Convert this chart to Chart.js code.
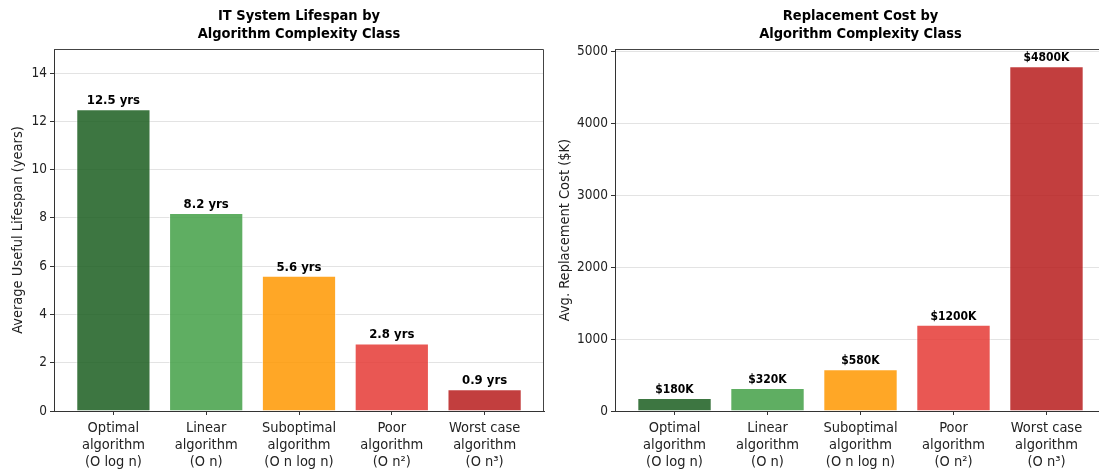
<!DOCTYPE html>
<html>
<head>
<meta charset="utf-8">
<title>Algorithm Complexity Class</title>
<script src="https://cdn.jsdelivr.net/npm/chart.js@4.4.1/dist/chart.umd.min.js"></script>
<style>
  html, body { margin: 0; padding: 0; background: #fff; overflow: hidden; }
  #wrap { position: relative; width: 1099px; height: 473px; overflow: hidden; }
  #leftBox { position: absolute; left: 0; top: 0; width: 549px; height: 473px; }
  #rightBox { position: absolute; left: 549px; top: 0; width: 562px; height: 473px; }
</style>
</head>
<body>
<div id="wrap">
  <div id="leftBox"><canvas id="lifespanChart"></canvas></div>
  <div id="rightBox"><canvas id="costChart"></canvas></div>
</div>
<script>
const categories = [
  ['Optimal', 'algorithm', '(O log n)'],
  ['Linear', 'algorithm', '(O n)'],
  ['Suboptimal', 'algorithm', '(O n log n)'],
  ['Poor', 'algorithm', '(O n\u00b2)'],
  ['Worst case', 'algorithm', '(O n\u00b3)']
];
const lifespanYears = [12.5, 8.2, 5.6, 2.8, 0.9];
const replacementCostK = [180, 320, 580, 1200, 4800];
const lifespanTicks = [0, 2, 4, 6, 8, 10, 12, 14];
const costTicks = [0, 1000, 2000, 3000, 4000, 5000];
const barColors = ['#1b5e20', '#43a047', '#ff9800', '#e53935', '#b71c1c'];

const FONT = '"DejaVu Sans Condensed", "DejaVu Sans", sans-serif';
Chart.defaults.font.family = FONT;
Chart.defaults.color = '#111';

function withAlpha(hex, a) {
  const n = parseInt(hex.slice(1), 16);
  return `rgba(${n >> 16}, ${(n >> 8) & 255}, ${n & 255}, ${a})`;
}

// number labels above each bar
const valueLabels = {
  id: 'valueLabels',
  afterDatasetsDraw(chart, args, opts) {
    const {ctx, scales: {x, y}} = chart;
    ctx.save();
    ctx.font = `bold ${opts.size}px ${FONT}`;
    ctx.fillStyle = '#000';
    ctx.textAlign = 'center';
    ctx.textBaseline = 'bottom';
    chart.data.datasets[0].data.forEach(p => {
      ctx.fillText(opts.format(p.y), x.getPixelForValue(p.x), y.getPixelForValue(p.y) - 2);
    });
    ctx.restore();
  }
};

// top and right spines of the plot area
const frame = {
  id: 'frame',
  afterDraw(chart, args, opts) {
    const {ctx, chartArea: a} = chart;
    const top = Math.round(a.top) + 0.5;
    const right = Math.round(a.right) - 0.5;
    ctx.save();
    ctx.strokeStyle = '#444';
    ctx.lineWidth = 1;
    ctx.beginPath();
    ctx.moveTo(a.left, top);
    ctx.lineTo(right, top);
    if (opts.right) ctx.lineTo(right, a.bottom);
    ctx.stroke();
    ctx.restore();
  }
};

function makeChart(id, o) {
  return new Chart(document.getElementById(id), {
    type: 'bar',
    data: {
      datasets: [{
        data: o.values.map((v, i) => ({x: i, y: v})),
        backgroundColor: barColors.map(c => withAlpha(c, 0.85)),
        borderColor: 'rgba(255,255,255,0.6)',
        borderWidth: 1,
        categoryPercentage: 0.8,
        barPercentage: 1
      }]
    },
    options: {
      responsive: true,
      maintainAspectRatio: false,
      animation: false,
      layout: {padding: {left: 0, right: 5, top: 0, bottom: 0}},
      plugins: {
        legend: {display: false},
        tooltip: {enabled: false},
        title: {
          display: true,
          fullSize: false,
          text: o.title,
          color: '#000',
          font: {size: 14.5, weight: 'bold', lineHeight: 1.2},
          padding: {top: 8, bottom: 6.2}
        },
        valueLabels: {size: o.labelSize, format: o.format},
        frame: {right: o.rightSpine}
      },
      scales: {
        x: {
          type: 'linear',
          min: -0.64,
          max: 4.64,
          offset: false,
          afterFit: s => { s.height = 62; },
          ticks: {
            stepSize: 1,
            includeBounds: false,
            autoSkip: false,
            maxRotation: 0,
            padding: 5,
            color: '#222',
            font: {size: 14.5, lineHeight: 1.17},
            callback: v => categories[v]
          },
          grid: {offset: false, drawOnChartArea: false, tickLength: 4, tickColor: '#333'},
          border: {color: '#333'}
        },
        y: {
          min: 0,
          max: o.yMax,
          afterFit: s => { s.width = o.yWidth; },
          afterBuildTicks: s => { s.ticks = o.ticks.map(v => ({value: v})); },
          ticks: {
            padding: 3,
            color: '#222',
            font: {size: 13.5},
            callback: v => String(v)
          },
          grid: {color: '#e3e3e3', tickLength: 4, tickColor: '#333'},
          border: {color: '#333'},
          title: {
            display: true,
            text: o.yTitle,
            color: '#222',
            font: {size: 14.5, lineHeight: 1.2},
            padding: {top: o.yTitlePad, bottom: 0}
          }
        }
      }
    },
    plugins: [valueLabels, frame]
  });
}

makeChart('lifespanChart', {
  values: lifespanYears,
  ticks: lifespanTicks,
  title: ['IT System Lifespan by', 'Algorithm Complexity Class'],
  yTitle: 'Average Useful Lifespan (years)',
  yMax: 15,
  yWidth: 54,
  yTitlePad: 9.3,
  labelSize: 13,
  rightSpine: true,
  format: v => `${v.toFixed(1)} yrs`
});

makeChart('costChart', {
  values: replacementCostK,
  ticks: costTicks,
  title: ['Replacement Cost by', 'Algorithm Complexity Class'],
  yTitle: 'Avg. Replacement Cost ($K)',
  yMax: 5040,
  yWidth: 66,
  yTitlePad: 7.3,
  labelSize: 12,
  rightSpine: false,
  format: v => `$${v}K`
});
</script>
</body>
</html>
